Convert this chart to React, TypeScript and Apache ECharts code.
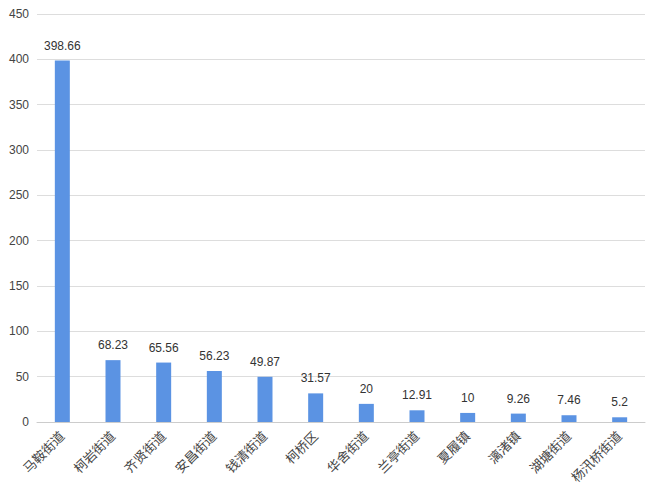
import React, { useEffect, useRef } from "react";
import * as echarts from "echarts";

const categories = ["马鞍街道", "柯岩街道", "齐贤街道", "安昌街道", "钱清街道", "柯桥区", "华舍街道", "兰亭街道", "夏履镇", "漓渚镇", "湖塘街道", "杨汛桥街道"];
const values = [398.66, 68.23, 65.56, 56.23, 49.87, 31.57, 20, 12.91, 10, 9.26, 7.46, 5.2];
const yTicks = { min: 0, max: 450, interval: 50 };

export default function App() {
  const ref = useRef<HTMLDivElement>(null);
  useEffect(() => {
    const chart = echarts.init(ref.current!, null, { renderer: "svg" });
    chart.setOption({
      animation: false,
      backgroundColor: "#ffffff",
      textStyle: { fontFamily: "Arial, 'Liberation Sans', 'Noto Sans CJK SC', sans-serif" },
      grid: { left: 37, right: 15, top: 14, bottom: 73, containLabel: false },
      xAxis: {
        type: "category",
        data: categories,
        axisTick: { show: false },
        axisLine: { lineStyle: { color: "#cccccc" } },
        axisLabel: { rotate: 45, color: "#444444", fontSize: 13, interval: 0, margin: 12 },
      },
      yAxis: {
        type: "value",
        min: yTicks.min,
        max: yTicks.max,
        interval: yTicks.interval,
        axisLine: { show: false },
        axisTick: { show: false },
        axisLabel: { color: "#444444", fontSize: 12, margin: 8 },
        splitLine: { lineStyle: { color: "#dddddd" } },
      },
      series: [
        {
          type: "bar",
          data: values,
          barWidth: 15,
          itemStyle: { color: "#5b93e3" },
          label: { show: true, position: "top", color: "#333333", fontSize: 12, distance: 9 },
        },
      ],
    });
    return () => chart.dispose();
  }, []);
  return <div ref={ref} style={{ position: "absolute", left: 0, top: 0, width: 660, height: 495 }} />;
}
